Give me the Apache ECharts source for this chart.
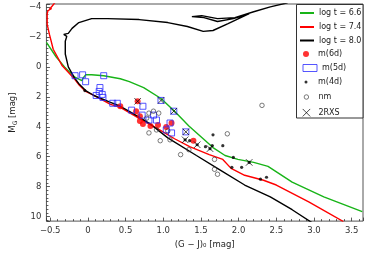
<!DOCTYPE html>
<html><head><meta charset="utf-8">
<script src="https://cdn.jsdelivr.net/npm/echarts@6/dist/echarts.min.js"></script>
<style>html,body{margin:0;padding:0;background:#fff}#c{width:374px;height:254px}</style>
</head><body><div id="c"></div>
<script>
// tick values and labels
const xTicks = [-0.5, 0, 0.5, 1, 1.5, 2, 2.5, 3, 3.5];
const xTickLabels = ['\u22120.5', '0', '0.5', '1.0', '1.5', '2.0', '2.5', '3.0', '3.5'];
const yTicks = [-4, -2, 0, 2, 4, 6, 8, 10];
const yTickLabels = ['\u22124', '\u22122', '0', '2', '4', '6', '8', '10'];

// isochrones [(G-J)0, M_G]
const iso66 = [[-0.55,-1.64],[-0.42,-0.66],[-0.31,0.00],[-0.18,0.66],[-0.08,0.92],[-0.06,0.72],[-0.03,0.53],[0.05,0.53],[0.21,0.59],[0.43,0.79],[0.55,0.99],[0.74,1.38],[0.97,2.11],[1.15,2.96],[1.34,3.95],[1.53,4.80],[1.66,5.39],[1.82,5.92],[1.99,6.18],[2.20,6.38],[2.39,6.64],[2.71,7.70],[3.13,8.68],[3.64,9.67]];
const iso74 = [[-0.42,-4.41],[-0.47,-4.08],[-0.51,-3.85],[-0.48,-3.91],[-0.53,-3.75],[-0.54,-3.55],[-0.54,-2.83],[-0.51,-2.17],[-0.46,-1.18],[-0.34,-0.07],[-0.18,0.79],[-0.11,1.25],[-0.03,1.64],[0.08,1.91],[0.30,2.50],[0.43,2.70],[0.72,3.55],[0.93,4.14],[1.15,4.80],[1.35,5.33],[1.61,5.86],[1.79,6.18],[1.90,6.78],[2.08,7.24],[2.33,7.57],[2.50,7.89],[2.93,9.01],[3.39,10.33]];
const iso80 = [[2.99,10.46],[2.71,9.54],[2.42,8.68],[2.08,7.89],[1.74,6.84],[1.44,5.92],[1.06,4.74],[0.81,3.75],[0.59,3.09],[0.43,2.63],[0.30,2.37],[0.08,1.91],[-0.03,1.58],[-0.11,1.18],[-0.18,0.72],[-0.26,0.00],[-0.30,-0.86],[-0.30,-1.71],[-0.28,-2.04],[-0.32,-2.17],[-0.26,-2.24],[-0.21,-2.57],[-0.12,-2.96],[0.05,-3.22],[0.26,-3.22],[0.68,-3.16],[1.06,-2.96],[1.32,-2.70],[1.53,-2.37],[1.66,-2.43],[1.86,-2.89],[2.14,-3.55],[1.93,-3.22],[1.72,-3.03],[1.54,-3.29],[1.38,-3.36],[1.51,-3.42],[1.72,-3.22],[1.95,-3.29],[2.20,-3.68],[2.42,-4.01],[2.65,-4.28]];

// stars
const m6d = [[0.43,2.63],[0.66,2.30],[0.64,2.96],[0.69,3.29],[0.69,3.62],[0.73,3.82],[0.83,3.95],[0.93,3.88],[1.04,4.01],[1.11,3.75],[1.40,4.93]];
const m5d = [[-0.17,0.59],[-0.07,0.53],[-0.03,0.99],[0.21,0.59],[0.16,1.38],[0.15,1.64],[0.11,1.91],[0.19,1.84],[0.20,2.04],[0.33,2.43],[0.39,2.43],[0.58,2.89],[0.73,2.63],[0.72,3.22],[0.81,3.55],[0.87,3.22],[0.91,3.55],[0.97,2.24],[1.14,2.96],[1.09,3.75],[1.11,4.41],[1.04,4.21],[1.30,4.34]];
const m4d = [[-0.04,1.58],[1.29,4.87],[1.35,4.93],[1.45,5.20],[1.56,5.33],[1.62,5.46],[1.65,5.26],[1.66,4.54],[1.79,5.26],[1.93,6.05],[1.91,6.71],[2.04,6.71],[2.14,6.38],[2.29,7.50],[2.37,7.37]];
const nm = [[2.31,2.57],[1.85,4.47],[1.68,6.18],[1.68,6.84],[1.72,7.17],[1.23,5.86],[1.34,5.53],[0.96,4.93],[0.81,4.41],[0.81,3.09],[0.87,2.96],[0.94,3.09],[0.78,3.42],[0.91,4.21],[1.09,4.87],[1.06,4.28]];
const rxs = [[0.66,2.30],[0.97,2.24],[1.14,2.96],[1.30,4.34],[1.29,4.87],[1.45,5.20],[1.62,5.46],[2.14,6.38]];

const FONT = 'DejaVu Sans';
function lab(ticks, labels) {
  return function (v) {
    const i = ticks.findIndex(t => Math.abs(t - v) < 1e-6);
    return i >= 0 ? labels[i] : '';
  };
}
const IW = 14;
function leg(name, top, h, style, isLine) {
  const o = {
    show: true, orient: 'vertical', left: 299 + (isLine ? 0 : (IW - h) / 2), top: top, padding: 0,
    itemWidth: IW, itemHeight: h, itemGap: 0, selectedMode: false,
    data: [name],
    textStyle: { fontSize: 8, color: '#222', fontFamily: FONT }
  };
  if (style) o.itemStyle = style;
  return o;
}

const chart = echarts.init(document.getElementById('c'), null, { renderer: 'canvas' });
chart.setOption({
  animation: false,
  backgroundColor: '#fff',
  grid: { left: 33, right: 11, top: 4, bottom: 29, show: true, borderColor: '#555', borderWidth: 1, backgroundColor: 'transparent' },
  xAxis: {
    type: 'value', min: -0.55, max: 3.65, splitNumber: 8,
    name: '(G \u2212 J)\u2080 [mag]', nameLocation: 'middle', nameGap: 16,
    nameTextStyle: { fontSize: 8.5, color: '#222', fontFamily: FONT },
    axisLine: { show: false, onZero: false },
    axisTick: { show: true, inside: true, length: 3.5, lineStyle: { color: '#333', width: 0.8 } },
    minorTick: { show: true, splitNumber: 5, length: 2, lineStyle: { color: '#333', width: 0.8 } },
    axisLabel: { margin: 5, fontSize: 8.5, color: '#333', fontFamily: FONT, formatter: lab(xTicks, xTickLabels) },
    splitLine: { show: false }
  },
  yAxis: {
    type: 'value', inverse: true, min: -4.2, max: 10.3, splitNumber: 7,
    name: '{n|M}{s|G}{n| [mag]}', nameLocation: 'middle', nameGap: 22, nameRotate: 90,
    nameTextStyle: { fontSize: 8.5, color: '#222', fontFamily: FONT,
      rich: { n: { fontSize: 8.5, fontFamily: FONT, color: '#222', lineHeight: 12 },
              s: { fontSize: 6, fontFamily: FONT, color: '#222', lineHeight: 12, padding: [4, 0, 0, 0] } } },
    axisLine: { show: false, onZero: false },
    axisTick: { show: true, inside: true, length: 3.5, lineStyle: { color: '#333', width: 0.8 } },
    minorTick: { show: true, splitNumber: 8, length: 2, lineStyle: { color: '#333', width: 0.8 } },
    axisLabel: { margin: 5, fontSize: 8.5, color: '#333', fontFamily: FONT, formatter: lab(yTicks, yTickLabels) },
    splitLine: { show: false }
  },
  legend: [
    leg('log t = 6.6', 9, 8, { opacity: 0 }, true),
    leg('log t = 7.4', 23, 8, { opacity: 0 }, true),
    leg('log t = 8.0', 36.5, 8, { opacity: 0 }, true),
    leg('m(6d)', 50, 6, { borderWidth: 0 }),
    leg('m(5d)', 64, 7, { borderWidth: 1 }),
    leg('m(4d)', 78, 3, { borderWidth: 0 }),
    leg('nm', 93, 4.5, { borderWidth: 0.8 }),
    leg('2RXS', 108.5, 7.5, { borderWidth: 0.9 })
  ],
  graphic: [{ type: 'rect', z: 3, silent: true,
    shape: { x: 296.5, y: 4.5, width: 66.5, height: 113.5 },
    style: { fill: '#fff', stroke: '#333', lineWidth: 1 } }],
  series: [
    { name: 'log t = 6.6', type: 'line', data: iso66, symbol: 'none', showSymbol: false,
      lineStyle: { color: '#18b418', width: 1.4 }, itemStyle: { color: '#18b418' }, z: 2 },
    { name: 'log t = 7.4', type: 'line', data: iso74, symbol: 'none', showSymbol: false,
      lineStyle: { color: '#ff0000', width: 1.4 }, itemStyle: { color: '#ff0000' }, z: 2 },
    { name: 'log t = 8.0', type: 'line', data: iso80, symbol: 'none', showSymbol: false,
      lineStyle: { color: '#000', width: 1.4 }, itemStyle: { color: '#000' }, z: 2 },
    { name: 'm(6d)', type: 'scatter', data: m6d, symbol: 'circle', symbolSize: 6,
      itemStyle: { color: '#ff0000', borderWidth: 0 }, z: 3 },
    { name: 'm(5d)', type: 'scatter', data: m5d, symbol: 'rect', symbolSize: 6,
      itemStyle: { color: 'rgba(255,255,255,0)', borderColor: '#2b2bff', borderWidth: 1 }, z: 3 },
    { name: 'm(4d)', type: 'scatter', data: m4d, symbol: 'circle', symbolSize: 3.2,
      itemStyle: { color: '#000', borderWidth: 0 }, z: 3 },
    { name: 'nm', type: 'scatter', data: nm, symbol: 'circle', symbolSize: 4.5,
      itemStyle: { color: 'rgba(255,255,255,0)', borderColor: '#333', borderWidth: 0.8 }, z: 3 },
    { name: '2RXS', type: 'scatter', data: rxs, symbol: 'path://M0,0L10,10M10,0L0,10', symbolSize: 6.5,
      itemStyle: { color: 'rgba(0,0,0,0)', borderColor: '#000', borderWidth: 0.9 }, z: 3 }
  ]
});
</script>
</body></html>
